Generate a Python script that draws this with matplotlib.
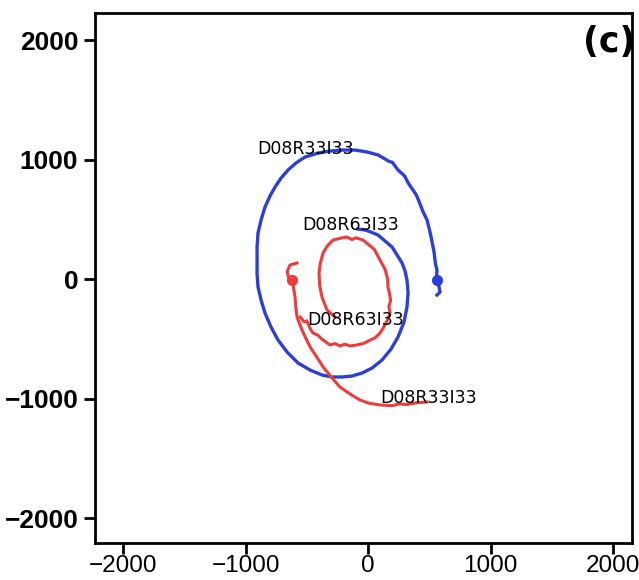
import matplotlib
matplotlib.use("Agg")
import matplotlib.pyplot as plt

# Blue track (x, y)
blue_pts = [(563, -134), (588, -109), (575, -40), (563, -8), (560, 30), (563, 75),
            (552, 120), (545, 170), (540, 220), (531, 268), (515, 350), (500, 420),
            (490, 460), (482, 494), (450, 560), (420, 640), (400, 690), (384, 720),
            (330, 800), (300, 860), (280, 880), (245, 912), (200, 975), (170, 985),
            (130, 1010), (82, 1038), (-8, 1063), (-106, 1079), (-212, 1079),
            (-310, 1071), (-408, 1054), (-514, 1021), (-588, 971), (-653, 912),
            (-710, 845), (-759, 770), (-800, 695), (-841, 603), (-873, 494),
            (-898, 385), (-906, 268), (-906, 159), (-906, 42), (-898, -67),
            (-873, -176), (-841, -285), (-792, -402), (-735, -510), (-661, -611),
            (-571, -703), (-473, -762), (-376, -803), (-294, -820), (-212, -820),
            (-131, -812), (-49, -787), (33, -745), (114, -678), (188, -586),
            (245, -485), (294, -360), (318, -234), (327, -117), (318, -8),
            (302, 67), (278, 134), (237, 201), (196, 268), (139, 318), (82, 368),
            (24, 393), (-24, 410), (-82, 418)]
blue_x = [p[0] for p in blue_pts]
blue_y = [p[1] for p in blue_pts]
blue_dot = (563, -8)

# Red track (hook and long tail)
red1_pts = [(-580, 134), (-637, 117), (-661, 59), (-645, 8), (-620, -8), (-610, -60),
            (-596, -151), (-590, -230), (-580, -318), (-560, -370), (-539, -427),
            (-510, -490), (-473, -569), (-420, -650), (-367, -736), (-300, -820),
            (-229, -904), (-150, -960), (-65, -1013), (10, -1040), (98, -1054),
            (200, -1060), (250, -1045), (318, -1050), (400, -1035), (482, -1029)]
red1_x = [p[0] for p in red1_pts]
red1_y = [p[1] for p in red1_pts]
red_dot = (-620, -8)

# Red track (inner loop)
red2_pts = [(-555, -318), (-520, -360), (-500, -350), (-470, -420), (-449, -452),
            (-410, -470), (-380, -500), (-340, -530), (-310, -552), (-270, -540),
            (-230, -560), (-190, -545), (-150, -560), (-90, -552), (-40, -540),
            (20, -510), (60, -490), (98, -452), (130, -400), (160, -340),
            (180, -285), (170, -230), (185, -180), (175, -120), (163, -67),
            (160, 0), (140, 80), (98, 159), (50, 250), (-41, 326), (-100, 345),
            (-130, 330), (-171, 351), (-230, 340), (-286, 326), (-330, 280),
            (-367, 218), (-390, 130), (-400, 50), (-395, -50), (-376, -151),
            (-335, -259), (-269, -318)]
red2_x = [p[0] for p in red2_pts]
red2_y = [p[1] for p in red2_pts]

labels = ["D08R33I33", "D08R63I33", "D08R63I33", "D08R33I33"]
label_x = [-906, -539, -498, 98]
label_y = [1088, 452, -343, -996]

xticks = [-2000, -1000, 0, 1000, 2000]
yticks = [-2000, -1000, 0, 1000, 2000]

BLUE = "#2a3fdc"
RED = "#ee3b3b"

fig = plt.figure(figsize=(6.39, 5.8), dpi=100)
ax = fig.add_axes([0.1487, 0.0638, 0.8403, 0.9138])

ax.plot(blue_x, blue_y, color=BLUE, lw=2.4, solid_joinstyle="round")
ax.plot(*blue_dot, "o", color=BLUE, ms=7)
ax.plot(red1_x, red1_y, color=RED, lw=2.2, solid_joinstyle="round")
ax.plot(*red_dot, "o", color=RED, ms=7)
ax.plot(red2_x, red2_y, color=RED, lw=2.2, solid_joinstyle="round")

for t, x, y in zip(labels, label_x, label_y):
    ax.text(x, y, t, fontsize=12.5, ha="left", va="center", color="black")

ax.set_xlim(-2229, 2155)
ax.set_ylim(-2209, 2226)
ax.set_xticks(xticks)
ax.set_yticks(yticks)
ax.set_xticklabels(["\u22122000", "\u22121000", "0", "1000", "2000"],
                   fontsize=17.5, family="Liberation Sans")
ax.set_yticklabels(["\u22122000", "\u22121000", "0", "1000", "2000"], fontsize=19,
                   fontweight="bold", family="Liberation Sans")
ax.tick_params(direction="out", length=8, width=2)
ax.tick_params(axis="x", pad=1)
ax.tick_params(axis="y", pad=4)
for s in ax.spines.values():
    s.set_linewidth(2)

ax.text(1.006, 0.977, "(c)", transform=ax.transAxes, ha="right", va="top",
        fontsize=25, fontweight="bold", family="DejaVu Sans")

fig.savefig("out.png", dpi=100)
